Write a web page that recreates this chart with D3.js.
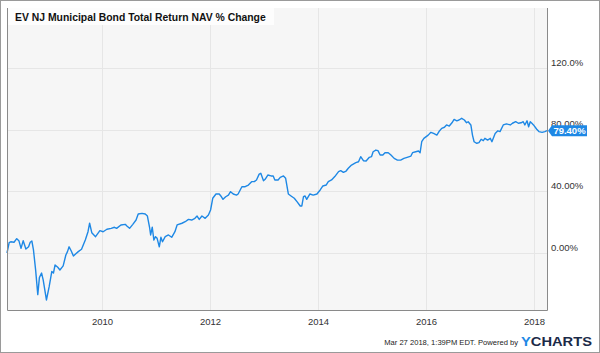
<!DOCTYPE html>
<html>
<head>
<meta charset="utf-8">
<script src="https://cdn.jsdelivr.net/npm/d3@7"></script>
<style>
  html, body { margin: 0; padding: 0; background: #fff; }
  svg { display: block; font-family: "Liberation Sans", Arial, sans-serif; }
</style>
</head>
<body>
<svg id="chart" width="600" height="353"></svg>
<script>
const TITLE = "EV NJ Municipal Bond Total Return NAV % Change";
const FOOTER = "Mar 27 2018, 1:39PM EDT.  Powered by";

// decimal years and % change
const years = [
  2008.24, 2008.28, 2008.31, 2008.37, 2008.42, 2008.46, 2008.50, 2008.54, 2008.59, 2008.64,
  2008.67, 2008.70, 2008.73, 2008.77, 2008.81, 2008.84, 2008.88, 2008.91, 2008.97, 2009.02,
  2009.07, 2009.10, 2009.13, 2009.18, 2009.22, 2009.28, 2009.33, 2009.36, 2009.39, 2009.43,
  2009.47, 2009.51, 2009.56, 2009.62, 2009.69, 2009.74, 2009.77, 2009.81, 2009.88, 2009.96,
  2010.02, 2010.09, 2010.17, 2010.23, 2010.27, 2010.35, 2010.43, 2010.46, 2010.51, 2010.57,
  2010.63, 2010.67, 2010.74, 2010.80, 2010.84, 2010.88, 2010.90, 2010.93, 2010.96, 2010.99,
  2011.02, 2011.06, 2011.09, 2011.12, 2011.17, 2011.23, 2011.29, 2011.35, 2011.39, 2011.48,
  2011.54, 2011.60, 2011.66, 2011.72, 2011.76, 2011.80, 2011.85, 2011.91, 2011.97, 2012.01,
  2012.05, 2012.11, 2012.17, 2012.20, 2012.24, 2012.29, 2012.34, 2012.38, 2012.43, 2012.49,
  2012.52, 2012.59, 2012.65, 2012.71, 2012.77, 2012.82, 2012.86, 2012.91, 2012.94, 2012.99,
  2013.02, 2013.07, 2013.13, 2013.17, 2013.20, 2013.26, 2013.30, 2013.36, 2013.40, 2013.45,
  2013.50, 2013.56, 2013.61, 2013.67, 2013.70, 2013.73, 2013.76, 2013.79, 2013.85, 2013.91,
  2013.98, 2014.04, 2014.09, 2014.15, 2014.19, 2014.25, 2014.31, 2014.38, 2014.42, 2014.47,
  2014.52, 2014.56, 2014.62, 2014.70, 2014.75, 2014.79, 2014.84, 2014.89, 2014.95, 2014.99,
  2015.02, 2015.07, 2015.11, 2015.15, 2015.20, 2015.24, 2015.30, 2015.35, 2015.41, 2015.47,
  2015.53, 2015.59, 2015.65, 2015.72, 2015.75, 2015.81, 2015.86, 2015.89, 2015.92, 2015.96,
  2016.04, 2016.09, 2016.14, 2016.20, 2016.24, 2016.29, 2016.34, 2016.38, 2016.43, 2016.48,
  2016.52, 2016.57, 2016.61, 2016.66, 2016.71, 2016.75, 2016.78, 2016.83, 2016.86, 2016.89,
  2016.94, 2016.98, 2017.02, 2017.06, 2017.09, 2017.14, 2017.19, 2017.22, 2017.28, 2017.33,
  2017.37, 2017.43, 2017.49, 2017.56, 2017.60, 2017.66, 2017.71, 2017.76, 2017.80, 2017.83,
  2017.87, 2017.90, 2017.93, 2017.96, 2017.99, 2018.05, 2018.09, 2018.15, 2018.20, 2018.24
];
const values = [
  0, 6.7, 7.3, 7, 9.3, 8, 3, 8, 2.6, 4,
  7, 7.8, 2, -11, -27, -16, -13, -17.5, -30.5, -22,
  -12, -13, -7.8, -9.3, -11, -8.4, -1.3, 0.9, 4, 1.3,
  -2, -0.6, 0.9, 2.4, 8.4, 13.8, 19.3, 13.2, 10.6, 14.5,
  13.8, 15.4, 16, 16.7, 16, 18.2, 18.6, 17.5, 16, 18.6,
  21.4, 25.3, 25.7, 25.3, 24, 16.7, 11.7, 16.7, 8.4, 10.6,
  9.5, 4, 10.2, 7.3, 10.6, 11.7, 10.2, 13.8, 18.2, 19.3,
  20.3, 21.8, 21.4, 22.5, 24, 21.8, 24, 22.5, 24.7, 27.9,
  35.5, 38.3, 38.3, 37, 34.8, 36.5, 37.6, 39.8, 38.3, 37.6,
  38.3, 43, 43, 44.1, 46.3, 46.3, 47.4, 51.2, 51.7, 46.9,
  47.8, 50.6, 50, 50, 47.4, 47.4, 49.1, 50, 48.5, 38.3,
  37, 35.5, 33.3, 30.5, 30.5, 36.5, 37, 34.8, 38.3, 37.6,
  38.3, 40.9, 43.5, 44.1, 46.3, 47.4, 49.6, 52.8, 53.4, 52.3,
  53.2, 55, 57.1, 58.6, 59.2, 62.5, 59.9, 59.7, 62.1, 62.5,
  65.7, 66.8, 66.4, 63.6, 63.6, 65.1, 65.1, 63.6, 61.4, 60.3,
  60.3, 61.4, 62.1, 62.9, 65.1, 65.7, 66.2, 65.1, 72.2, 74.4,
  76.5, 78.3, 77.6, 76.5, 78.8, 80.9, 81.6, 83.1, 82.4, 84.5,
  86.7, 85.8, 86.3, 87.4, 86.3, 84.5, 85.2, 83.1, 76.5, 72.2,
  71.2, 71.6, 73.8, 72.9, 74.4, 73.3, 74.4, 72.2, 77.6, 79.3,
  78.8, 83.1, 83.8, 83.1, 84.2, 85.2, 84.2, 84.5, 85.2, 83.1,
  85.8, 81.9, 85.2, 84.2, 83.1, 80.3, 78.8, 78.3, 78.8, 79.4
];

const xTickValues = [2010, 2012, 2014, 2016, 2018];
const xTickLabels = ["2010", "2012", "2014", "2016", "2018"];
const yTickValues = [0, 40, 80, 120];
const yTickLabels = ["0.00%", "40.00%", "80.00%", "120.0%"];

const BLUE = "#1e88e5";
const plot = { left: 7, right: 547, top: 8, bottom: 310 };

const svg = d3.select("#chart");

// outer frame
svg.append("rect")
  .attr("x", 0.5).attr("y", 0.5)
  .attr("width", 599).attr("height", 352)
  .attr("fill", "#fff")
  .attr("stroke", "#9a9a9a");

const x = d3.scaleLinear().domain([2008.24, 2018.24]).range([plot.left, plot.right]);
const y = d3.scaleLinear().domain([-37, 159]).range([plot.bottom, plot.top]);

svg.append("rect")
  .attr("x", plot.left).attr("y", plot.top)
  .attr("width", plot.right - plot.left).attr("height", plot.bottom - plot.top)
  .attr("fill", "#f6f6f6");

// grid
svg.append("g")
  .selectAll("line")
  .data(xTickValues)
  .join("line")
  .attr("x1", (d) => Math.round(x(d)) + 0.5)
  .attr("x2", (d) => Math.round(x(d)) + 0.5)
  .attr("y1", plot.top)
  .attr("y2", plot.bottom)
  .attr("stroke", "#e6e6e6");

svg.append("g")
  .selectAll("line")
  .data(yTickValues)
  .join("line")
  .attr("x1", plot.left)
  .attr("x2", plot.right)
  .attr("y1", (d) => Math.round(y(d)) + 0.5)
  .attr("y2", (d) => Math.round(y(d)) + 0.5)
  .attr("stroke", "#e6e6e6");

// title box
svg.append("rect")
  .attr("x", plot.left + 1).attr("y", plot.top)
  .attr("width", 266).attr("height", 17)
  .attr("fill", "#fdfdfd");

svg.append("text")
  .attr("x", 15).attr("y", 20.5)
  .attr("font-size", 10.4)
  .attr("font-weight", "bold")
  .attr("fill", "#111")
  .text(TITLE);

// line
const data = years.map((yr, i) => ({ yr, v: values[i] }));
const line = d3.line().x((d) => x(d.yr)).y((d) => y(d.v));

svg.append("path")
  .datum(data)
  .attr("d", line)
  .attr("fill", "none")
  .attr("stroke", BLUE)
  .attr("stroke-width", 1.4)
  .attr("stroke-linejoin", "round");

// plot border (left, bottom, right)
svg.append("path")
  .attr("d", `M${plot.left + 0.5},${plot.top}V${plot.bottom + 0.5}H${plot.right + 0.5}V${plot.top}`)
  .attr("fill", "none")
  .attr("stroke", "#8a8a8a");

// axes
const xAxis = d3.axisBottom(x)
  .tickValues(xTickValues)
  .tickFormat((d, i) => xTickLabels[i])
  .tickSize(0)
  .tickPadding(8);

svg.append("g")
  .attr("transform", `translate(0,${plot.bottom})`)
  .call(xAxis)
  .call((g) => g.select(".domain").remove())
  .selectAll("text")
  .attr("font-family", "'Liberation Sans', Arial, sans-serif")
  .attr("font-size", 9.5)
  .attr("fill", "#333");

const yAxis = d3.axisRight(y)
  .tickValues(yTickValues)
  .tickFormat((d, i) => yTickLabels[i])
  .tickSize(0)
  .tickPadding(4);

svg.append("g")
  .attr("transform", `translate(${plot.right},0)`)
  .call(yAxis)
  .call((g) => g.select(".domain").remove())
  .selectAll("text")
  .attr("font-family", "'Liberation Sans', Arial, sans-serif")
  .attr("font-size", 9.5)
  .attr("fill", "#333")
  .attr("dy", "-0.3em");

// last value badge, drawn over the 80% label as in the original
const last = data[data.length - 1];
const by = y(last.v);
const badge = svg.append("g").attr("transform", `translate(${plot.right + 1},${by})`);
badge.append("path")
  .attr("d", "M0,0L4,-5.5H39V5.5H4Z")
  .attr("fill", BLUE);
badge.append("text")
  .attr("x", 21.5).attr("y", 3.5)
  .attr("text-anchor", "middle")
  .attr("font-size", 9.5)
  .attr("font-weight", "bold")
  .attr("fill", "#fff")
  .text(d3.format(".2f")(last.v) + "%");

// footer
svg.append("text")
  .attr("x", 518).attr("y", 345)
  .attr("text-anchor", "end")
  .attr("font-size", 7.6)
  .attr("fill", "#222")
  .text(FOOTER);

const logo = svg.append("text")
  .attr("x", 521).attr("y", 346)
  .attr("font-size", 13)
  .attr("font-weight", "bold")
  .attr("textLength", 71)
  .attr("lengthAdjust", "spacingAndGlyphs");
logo.append("tspan").attr("fill", BLUE).text("Y");
logo.append("tspan").attr("fill", "#1b2a48").text("CHARTS");
</script>
</body>
</html>
